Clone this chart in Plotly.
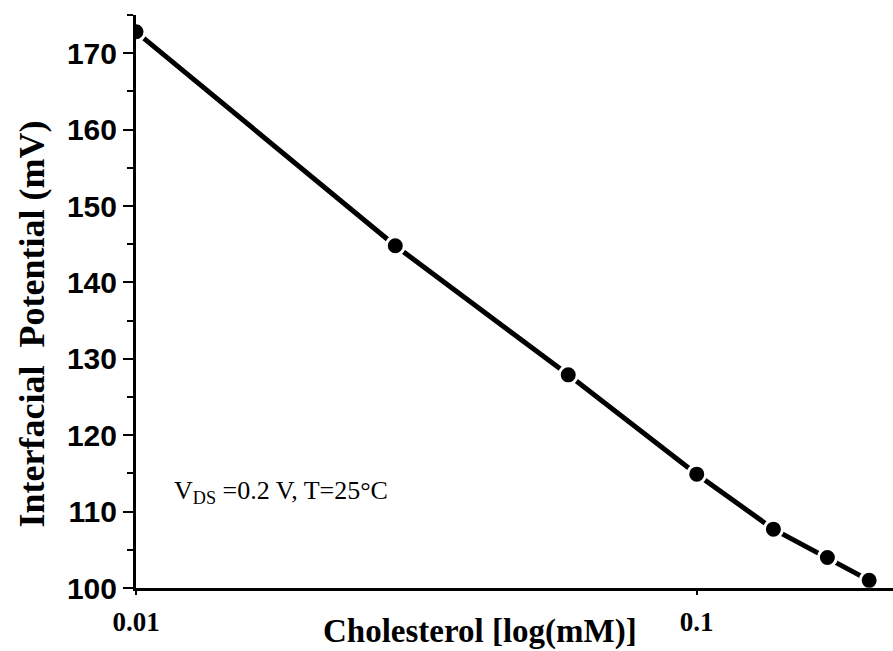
import plotly.graph_objects as go

# Cholesterol concentration (mM) and measured interfacial potential (mV)
concentration = [0.01, 0.029, 0.059, 0.1, 0.137, 0.171, 0.203]
potential = [172.8, 144.8, 127.9, 114.9, 107.7, 104.0, 101.0]

x_tick_vals = [0.01, 0.1]
x_tick_text = ["0.01", "0.1"]
y_tick_vals = [100, 110, 120, 130, 140, 150, 160, 170]

serif = "Liberation Serif"
sans = "Liberation Sans"

fig = go.Figure()
fig.add_trace(go.Scatter(
    x=concentration,
    y=potential,
    mode="lines+markers",
    line=dict(color="black", width=5),
    marker=dict(color="black", size=18, line=dict(color="white", width=3)),
    showlegend=False,
))

fig.update_layout(
    width=893,
    height=651,
    margin=dict(l=136, r=0, t=15, b=63),
    paper_bgcolor="white",
    plot_bgcolor="white",
    xaxis=dict(
        type="log",
        range=[-2, -0.65],
        tickvals=x_tick_vals,
        ticktext=x_tick_text,
        ticks="outside",
        ticklen=4,
        tickwidth=2,
        tickcolor="black",
        ticklabelstandoff=4,
        tickfont=dict(family=serif, size=27, color="black", weight="bold"),
        showline=True,
        linecolor="black",
        linewidth=3,
        showgrid=False,
        zeroline=False,
    ),
    yaxis=dict(
        range=[100, 175],
        tickvals=y_tick_vals,
        ticks="outside",
        ticklen=10,
        tickwidth=2,
        tickcolor="black",
        minor=dict(dtick=5, tick0=0, ticks="outside", ticklen=6, tickwidth=2, tickcolor="black"),
        tickfont=dict(family=sans, size=30, color="black", weight="bold"),
        showline=True,
        linecolor="black",
        linewidth=3,
        showgrid=False,
        zeroline=False,
    ),
    annotations=[
        dict(
            text="Cholesterol [log(mM)]",
            xref="paper", yref="paper",
            x=0.455, y=0, yshift=-43,
            xanchor="center", yanchor="middle",
            showarrow=False,
            font=dict(family=serif, size=33, color="black", weight="bold"),
        ),
        dict(
            text="Interfacial  Potential (mV)",
            xref="paper", yref="paper",
            x=0, xshift=-104, y=0.46,
            xanchor="center", yanchor="middle",
            textangle=-90,
            showarrow=False,
            font=dict(family=serif, size=36, color="black", weight="bold"),
        ),
        dict(
            text="V<sub>DS</sub> =0.2 V, T=25°C",
            xref="paper", yref="y",
            x=0.047, y=112.6,
            xanchor="left", yanchor="middle",
            showarrow=False,
            font=dict(family=serif, size=26, color="black"),
        ),
    ],
)

fig.write_html("out.html")
